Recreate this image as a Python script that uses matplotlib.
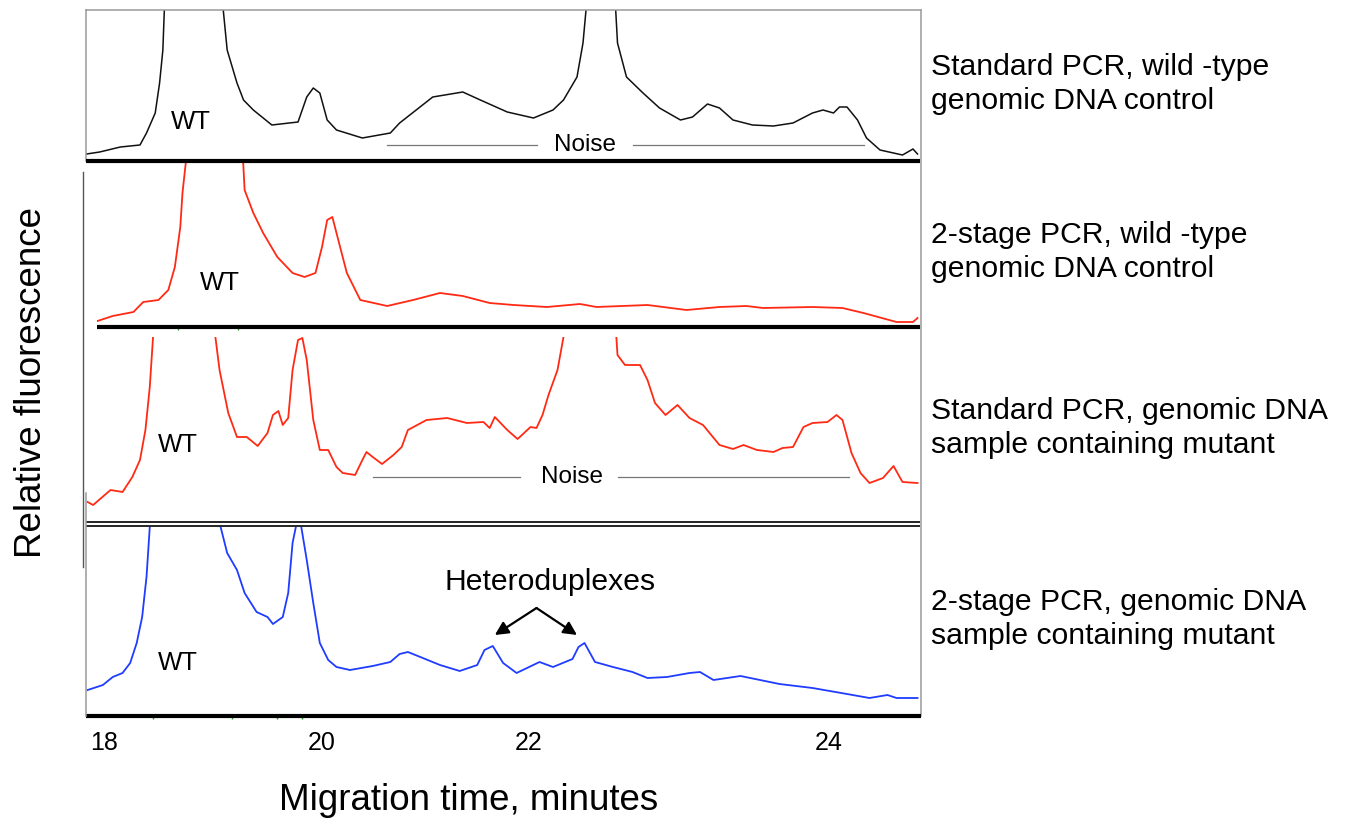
import numpy as np
import matplotlib
matplotlib.use('Agg')
import matplotlib.pyplot as plt

plt.rcParams['font.family'] = ['Liberation Sans', 'DejaVu Sans']

# Electropherogram traces: migration time (min) vs relative fluorescence (a.u.)
# values above the panel height are off-scale peaks (clipped by the panel)
std_wt_time = [17.84, 17.96, 18.15, 18.33, 18.39, 18.47, 18.51, 18.54, 18.57, 18.81,
               19.05, 19.13, 19.22, 19.28, 19.37, 19.54, 19.78, 19.86, 19.92, 19.98,
               20.05, 20.14, 20.39, 20.66, 20.75, 21.07, 21.36, 21.53, 21.79, 22.03,
               22.16, 22.23, 22.32, 22.36, 22.41, 22.48, 22.56, 22.59, 22.65, 22.76,
               22.87, 23.01, 23.09, 23.19, 23.27, 23.36, 23.49, 23.63, 23.76, 23.89,
               23.96, 24.03, 24.07, 24.12, 24.19, 24.25, 24.34, 24.49, 24.56, 24.59]
std_wt_signal = [7, 9, 14, 16, 28, 48, 78, 111, 200, 400,
                 200, 111, 78, 61, 51, 36, 39, 64, 73, 68,
                 41, 31, 23, 28, 38, 64, 69, 61, 49, 43,
                 51, 61, 84, 118, 200, 400, 200, 118, 84, 68,
                 53, 41, 44, 57, 53, 41, 36, 35, 38, 48,
                 51, 48, 54, 54, 41, 23, 11, 6, 12, 7]

twostage_wt_time = [17.94, 18.08, 18.27, 18.36, 18.50, 18.59, 18.65, 18.70, 18.72, 18.75,
                    18.77, 19.01, 19.26, 19.29, 19.37, 19.46, 19.59, 19.73, 19.84, 19.94,
                    20.00, 20.05, 20.10, 20.14, 20.24, 20.37, 20.63, 20.88, 21.14, 21.36,
                    21.62, 21.85, 22.12, 22.34, 22.45, 22.79, 23.05, 23.27, 23.45, 23.56,
                    23.89, 24.09, 24.23, 24.45, 24.56, 24.59]
twostage_wt_signal = [6, 11, 15, 25, 27, 37, 60, 100, 134, 164,
                      200, 400, 200, 137, 114, 94, 70, 54, 50, 54,
                      80, 107, 110, 94, 54, 27, 21, 27, 34, 31,
                      24, 22, 20, 23, 20, 22, 17, 20, 21, 19,
                      20, 19, 14, 5, 5, 9]

std_mut_time = [17.85, 17.90, 18.06, 18.17, 18.26, 18.33, 18.38, 18.42, 18.45, 18.47,
                18.72, 18.97, 19.06, 19.14, 19.22, 19.31, 19.41, 19.50, 19.55, 19.60,
                19.64, 19.69, 19.73, 19.78, 19.82, 19.86, 19.92, 19.98, 20.06, 20.14,
                20.20, 20.32, 20.39, 20.43, 20.49, 20.58, 20.69, 20.77, 20.83, 21.01,
                21.21, 21.40, 21.56, 21.62, 21.67, 21.79, 21.89, 22.01, 22.05, 22.09,
                22.13, 22.19, 22.23, 22.24, 22.39, 22.55, 22.59, 22.64, 22.74, 22.79,
                22.84, 22.91, 22.99, 23.07, 23.16, 23.27, 23.36, 23.43, 23.52, 23.63,
                23.69, 23.76, 23.83, 23.89, 23.99, 24.05, 24.09, 24.15, 24.21, 24.27,
                24.36, 24.43, 24.49, 24.59]
std_mut_signal = [20, 17, 32, 30, 45, 62, 92, 135, 185, 230,
                  400, 230, 152, 109, 85, 85, 76, 89, 107, 111,
                  97, 104, 152, 182, 184, 162, 102, 72, 72, 55,
                  49, 47, 62, 70, 65, 58, 67, 75, 92, 102,
                  104, 99, 100, 94, 105, 92, 83, 95, 94, 107,
                  127, 152, 185, 230, 400, 260, 167, 157, 157, 142,
                  119, 107, 117, 104, 97, 77, 73, 77, 72, 70,
                  74, 75, 95, 99, 100, 107, 102, 69, 49, 39,
                  44, 56, 40, 39]

twostage_mut_time = [17.85, 17.99, 18.08, 18.17, 18.24, 18.30, 18.35, 18.39, 18.42, 18.44,
                     18.74, 19.06, 19.07, 19.13, 19.22, 19.29, 19.40, 19.50, 19.55, 19.64,
                     19.69, 19.73, 19.76, 19.78, 19.81, 19.86, 19.92, 19.98, 20.06, 20.14,
                     20.27, 20.49, 20.66, 20.75, 20.83, 20.95, 21.14, 21.33, 21.50, 21.57,
                     21.65, 21.75, 21.88, 22.07, 22.16, 22.29, 22.33, 22.37, 22.44, 22.56,
                     22.69, 22.79, 22.92, 23.07, 23.14, 23.23, 23.41, 23.54, 23.67, 23.89,
                     24.12, 24.27, 24.39, 24.45, 24.59]
twostage_mut_signal = [26, 31, 39, 43, 53, 73, 99, 139, 189, 240,
                       400, 240, 189, 163, 146, 123, 104, 99, 92, 99,
                       123, 173, 189, 215, 189, 156, 113, 73, 56, 49,
                       46, 50, 54, 62, 64, 59, 51, 45, 51, 66,
                       70, 53, 43, 54, 49, 57, 69, 73, 54, 49,
                       44, 38, 39, 43, 44, 36, 40, 36, 32, 28,
                       22, 18, 21, 18, 18]

panel_labels = ['Standard PCR, wild -type\ngenomic DNA control',
                '2-stage PCR, wild -type\ngenomic DNA control',
                'Standard PCR, genomic DNA\nsample containing mutant',
                '2-stage PCR, genomic DNA\nsample containing mutant']

tick_minutes = [18, 20, 22, 24]

# the time axis in the source is not evenly spaced: piecewise scale through the tick marks
scale_min = [16, 18, 20, 22, 24, 26]
scale_px = [-114, 104, 322, 529, 829, 1129]


def fwd(m):
    return np.interp(m, scale_min, scale_px)


def inv(u):
    return np.interp(u, scale_px, scale_min)


W, H = 1355, 825
fig = plt.figure(figsize=(W / 100, H / 100), dpi=100)


def box(l, t, r, b):
    return [l / W, 1 - b / H, (r - l) / W, (b - t) / H]


red = '#ff2a14'
blue = '#1f3cff'
panels = [
    (std_wt_time, std_wt_signal, '#111111', (86, 10, 920, 161), 1.1),
    (twostage_wt_time, twostage_wt_signal, red, (97, 163, 920, 327), 1.3),
    (std_mut_time, std_mut_signal, red, (86, 337, 920, 522), 1.3),
    (twostage_mut_time, twostage_mut_signal, blue, (86, 527, 920, 716), 1.3),
]

axes = []
for t, s, c, (l, tp, r, b), lw in panels:
    ax = fig.add_axes(box(l, tp, r, b))
    ax.set_xscale('function', functions=(fwd, inv))
    ax.plot(t, s, color=c, lw=lw)
    ax.set_xlim(inv(l), inv(r))
    ax.set_ylim(0, b - tp)
    for sp in ax.spines.values():
        sp.set_visible(False)
    ax.set_yticks([])
    ax.set_xticks([])
    ax.patch.set_alpha(0)
    axes.append(ax)

ax1, ax2, ax3, ax4 = axes

# small green instrument marks
ax2.set_xticks([18.68, 19.23], minor=True)
ax2.tick_params(axis='x', which='minor', length=2.5, width=1, color='#20a020', direction='out')
ax4.set_xticks(tick_minutes)
ax4.set_xticklabels([str(v) for v in tick_minutes])
ax4.tick_params(axis='x', which='major', length=0, pad=11, labelsize=18)
ax4.set_xticks([18.45, 19.17, 19.59, 19.82], minor=True)
ax4.tick_params(axis='x', which='minor', length=2.5, width=1, color='#20a020', direction='out')

# WT labels
for ax, x, y in [(ax1, 18.80, 39), (ax2, 19.06, 44), (ax3, 18.68, 77), (ax4, 18.68, 53)]:
    ax.text(x, y, 'WT', fontsize=18.5, ha='center', va='center')

# Noise bands
for ax, y, x_text, segs in [(ax1, 16, 22.37, [(20.63, 22.05), (22.69, 24.23)]),
                            (ax3, 45, 22.29, [(20.49, 21.91), (22.59, 24.13)])]:
    for a, b in segs:
        ax.plot([a, b], [y, y], color='#777777', lw=0.9)
    ax.text(x_text, y, 'Noise', fontsize=17.5, ha='center', va='center')

# Heteroduplex arrows
ax4.text(22.14, 134, 'Heteroduplexes', fontsize=21.7, ha='center', va='center')
for hx in [21.67, 22.32]:
    ax4.annotate('', xy=(hx, 81), xytext=(22.05, 108),
                 arrowprops=dict(arrowstyle='-|>', color='black', lw=1.6, mutation_scale=20,
                                 shrinkA=0, shrinkB=0))

# frame lines drawn in pixel space
ov = fig.add_axes([0, 0, 1, 1], zorder=5)
ov.set_xlim(0, W)
ov.set_ylim(H, 0)
ov.axis('off')
ov.patch.set_alpha(0)
gray = '#9a9a9a'
ov.plot([86, 921], [9.5, 9.5], color=gray, lw=1.1)
ov.plot([86, 86], [9.5, 161], color=gray, lw=1.1)
ov.plot([921, 921], [9.5, 716], color=gray, lw=1.1)
ov.plot([86, 920], [161, 161], color='black', lw=3.0, solid_capstyle='butt')
ov.plot([97, 920], [327, 327], color='black', lw=3.0, solid_capstyle='butt')
ov.plot([86, 920], [522, 522], color='black', lw=1.2, solid_capstyle='butt')
ov.plot([86, 920], [526, 526], color='black', lw=1.2, solid_capstyle='butt')
ov.plot([86, 921], [716, 716], color='black', lw=3.0, solid_capstyle='butt')
ov.plot([83, 83], [172, 567], color='#555555', lw=1.0)
ov.plot([86, 86], [493, 716], color=gray, lw=1.1)

# right-hand descriptions
for y, lab in zip([84, 252, 428, 619], panel_labels):
    fig.text(931 / W, 1 - y / H, lab, fontsize=21.7, ha='left', va='center', linespacing=1.3)

fig.text(469 / W, 1 - 800 / H, 'Migration time, minutes', fontsize=26.5, ha='center', va='center')
fig.text(32 / W, 1 - 383 / H, 'Relative fluorescence', fontsize=26.5, ha='center', va='center',
         rotation=90)

fig.savefig('out.png', dpi=100)
